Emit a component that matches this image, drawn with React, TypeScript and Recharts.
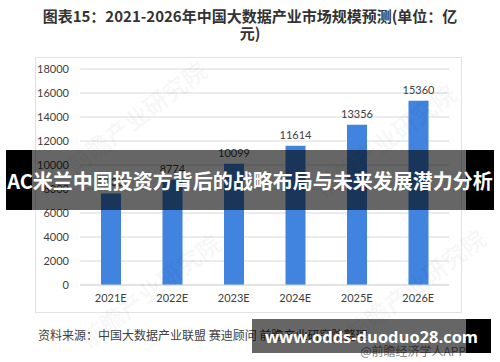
import React from "react";
import { BarChart, Bar, XAxis, YAxis, CartesianGrid, LabelList } from "recharts";

const categories = ["2021E", "2022E", "2023E", "2024E", "2025E", "2026E"];
const marketSize = [7630, 8774, 10099, 11614, 13356, 15360];
const yTicks = [0, 2000, 4000, 6000, 8000, 10000, 12000, 14000, 16000, 18000];

const titleLine1 = "图表15：2021-2026年中国大数据产业市场规模预测(单位：亿";
const titleLine2 = "元)";
const sourceText = "资料来源：中国大数据产业联盟 赛迪顾问 前瞻产业研究院整理";
const creditText = "@前瞻经济学人APP";
const bannerText = "AC米兰中国投资方背后的战略布局与未来发展潜力分析";
const urlText = "www.odds-duoduo28.com";
const watermarkText = "前瞻产业研究院";

const data = categories.map((c, i) => ({ year: c, value: marketSize[i] }));

const cjk = '"Noto Sans CJK SC", "Noto Sans", sans-serif';
const num = 'Lato, "Noto Sans CJK SC", sans-serif';

const watermarks = [
  { x: 136, y: 117 },
  { x: 385, y: 140 },
  { x: 150, y: 290 },
  { x: 415, y: 285 },
];

export default function App() {
  return (
    <div
      style={{
        position: "absolute",
        left: 0,
        top: 0,
        width: 500,
        height: 362,
        background: "#ffffff",
        overflow: "hidden",
        fontFamily: cjk,
      }}
    >
      <div
        style={{
          position: "absolute",
          left: 0,
          top: 7,
          width: 500,
          textAlign: "center",
          fontSize: 15,
          fontWeight: 700,
          lineHeight: "17px",
          color: "#333333",
          whiteSpace: "nowrap",
        }}
      >
        {titleLine1}
        <br />
        {titleLine2}
      </div>
      <div
        style={{
          position: "absolute",
          left: 35,
          top: 57,
          width: 427,
          height: 256,
          border: "1px solid #e2e2e2",
          boxSizing: "border-box",
        }}
      />
      <div style={{ position: "absolute", left: 0, top: 0 }}>
        <BarChart
          width={500}
          height={362}
          data={data}
          margin={{ top: 69, right: 51, bottom: 47, left: 20 }}
        >
          <CartesianGrid vertical={false} stroke="#d9d9d9" />
          <XAxis
            dataKey="year"
            height={30}
            tickLine={false}
            tickSize={0}
            tickMargin={9}
            axisLine={{ stroke: "#d9d9d9" }}
            tick={{ fill: "#404040", fontSize: 11, fontFamily: num }}
          />
          <YAxis
            width={60}
            domain={[0, 18000]}
            ticks={yTicks}
            interval={0}
            tickLine={false}
            tickSize={0}
            tickMargin={11}
            axisLine={false}
            tick={{ fill: "#404040", fontSize: 11, fontFamily: num }}
          />
          <Bar dataKey="value" fill="#4084e0" barSize={20} isAnimationActive={false}>
            <LabelList
              dataKey="value"
              position="top"
              offset={7}
              fill="#404040"
              fontSize={11}
              fontFamily={num}
            />
          </Bar>
        </BarChart>
      </div>
      {watermarks.map((w, i) => (
        <div
          key={i}
          style={{
            position: "absolute",
            left: w.x - 90,
            top: w.y - 14,
            width: 180,
            textAlign: "center",
            fontSize: 24,
            fontWeight: 700,
            color: "rgba(0,0,0,0.045)",
            transform: "rotate(-37deg)",
            whiteSpace: "nowrap",
            lineHeight: "28px",
          }}
        >
          {watermarkText}
        </div>
      ))}
      <div
        style={{
          position: "absolute",
          left: 38,
          top: 327,
          fontSize: 12,
          lineHeight: "16px",
          color: "#404040",
          whiteSpace: "nowrap",
        }}
      >
        {sourceText}
      </div>
      <div
        style={{
          position: "absolute",
          right: 34,
          top: 343,
          fontSize: 12,
          lineHeight: "15px",
          color: "#808080",
          whiteSpace: "nowrap",
        }}
      >
        {creditText}
      </div>
      {/* top banner */}
      <div style={{ position: "absolute", left: 6, top: 150, width: 26, height: 60, background: "#000" }} />
      <div style={{ position: "absolute", left: 32, top: 150, width: 434, height: 60, background: "rgba(0,0,0,0.6)" }} />
      <div style={{ position: "absolute", left: 466, top: 150, width: 28, height: 60, background: "#000" }} />
      <div
        style={{
          position: "absolute",
          left: 0,
          top: 150,
          width: 500,
          height: 60,
          display: "flex",
          alignItems: "center",
          justifyContent: "center",
          color: "#ffffff",
          fontSize: 20,
          fontWeight: 700,
          whiteSpace: "nowrap",
        }}
      >
        {bannerText}
      </div>
      {/* bottom banner */}
      <div style={{ position: "absolute", left: 252, top: 319, width: 214, height: 34, background: "rgba(0,0,0,0.6)" }} />
      <div style={{ position: "absolute", left: 466, top: 319, width: 25, height: 34, background: "#000" }} />
      <div
        style={{
          position: "absolute",
          left: 252,
          top: 319,
          width: 239,
          height: 34,
          display: "flex",
          alignItems: "center",
          justifyContent: "center",
          color: "#ffffff",
          fontSize: 16.5,
          fontWeight: 700,
          fontFamily: '"Open Sans", "DejaVu Sans", sans-serif',
          whiteSpace: "nowrap",
        }}
      >
        {urlText}
      </div>
    </div>
  );
}
